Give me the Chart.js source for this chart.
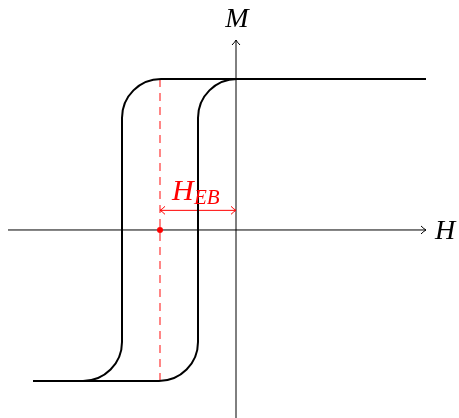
<!DOCTYPE html>
<html>
<head>
  <meta charset="utf-8">
  <title>Exchange bias hysteresis loop</title>
  <script src="https://cdn.jsdelivr.net/npm/chart.js"></script>
  <style>
    html, body { margin: 0; padding: 0; background: #fff; }
    #wrap { width: 459px; height: 418px; position: relative; }
  </style>
</head>
<body>
  <div id="wrap"><canvas id="loop"></canvas></div>
  <script>
    // Loop branches (H in units of the half coercive width, M normalised to saturation)
    const hDesc = [2.5, -1.5, -1.5, -2.67];
    const mDesc = [1, 1, -1, -1];
    const hAsc = [-2.67, -0.5, -0.5, 2.5];
    const mAsc = [-1, -1, 1, 1];

    // Loop centre (exchange bias field) and the height of the H_EB arrow
    const hEB = -1;
    const arrowM = 0.13;

    const toPoints = (xs, ys) => xs.map((x, i) => ({ x: x, y: ys[i] }));

    // Small open arrowhead at (x, y) pointing along angle a
    function arrowHead(ctx, x, y, a, len, half) {
      ctx.save();
      ctx.translate(x, y);
      ctx.rotate(a);
      ctx.beginPath();
      ctx.moveTo(-len, -half);
      ctx.quadraticCurveTo(-len * 0.35, -half * 0.2, 0, 0);
      ctx.quadraticCurveTo(-len * 0.35, half * 0.2, -len, half);
      ctx.stroke();
      ctx.restore();
    }

    const schematic = {
      id: 'schematic',
      beforeDatasetsDraw(chart) {
        const { ctx, chartArea, scales } = chart;
        const x0 = scales.x.getPixelForValue(0);
        const y0 = scales.y.getPixelForValue(0);
        ctx.save();
        ctx.strokeStyle = '#000';
        ctx.lineWidth = 1;
        ctx.beginPath();
        ctx.moveTo(chartArea.left, y0);
        ctx.lineTo(chartArea.right, y0);
        ctx.moveTo(x0, chartArea.bottom);
        ctx.lineTo(x0, chartArea.top);
        ctx.stroke();
        arrowHead(ctx, chartArea.right, y0, 0, 5, 4);
        arrowHead(ctx, x0, chartArea.top, -Math.PI / 2, 5, 4);

        ctx.fillStyle = '#000';
        ctx.font = 'italic 28px "Liberation Serif"';
        ctx.textAlign = 'center';
        ctx.fillText('M', x0 + 1, chartArea.top - 13);
        ctx.textAlign = 'left';
        ctx.fillText('H', chartArea.right + 9, y0 + 9);
        ctx.restore();
      },
      afterDatasetsDraw(chart) {
        const ctx = chart.ctx;
        chart.data.datasets.forEach((ds, i) => {
          const pts = chart.getDatasetMeta(i).data;
          if (ds.cornerRadius) {
            // branch path with rounded corners
            ctx.save();
            ctx.strokeStyle = ds.loopColor;
            ctx.lineWidth = ds.loopWidth;
            ctx.lineJoin = 'round';
            ctx.beginPath();
            ctx.moveTo(pts[0].x, pts[0].y);
            for (let k = 1; k < pts.length - 1; k++) {
              ctx.arcTo(pts[k].x, pts[k].y, pts[k + 1].x, pts[k + 1].y, ds.cornerRadius);
            }
            const last = pts[pts.length - 1];
            ctx.lineTo(last.x, last.y);
            ctx.stroke();
            ctx.restore();
          }
          if (ds.arrows) {
            const a = pts[0], b = pts[pts.length - 1];
            ctx.save();
            ctx.strokeStyle = ds.borderColor;
            ctx.lineWidth = 1;
            arrowHead(ctx, a.x, a.y, Math.PI, 5, 4);
            arrowHead(ctx, b.x, b.y, 0, 5, 4);
            // H_EB label above the arrow
            const mid = (a.x + b.x) / 2;
            ctx.fillStyle = ds.borderColor;
            ctx.textAlign = 'left';
            ctx.font = 'italic 30px "Liberation Serif"';
            ctx.fillText('H', mid - 26, a.y - 10);
            ctx.font = 'italic 21px "Liberation Serif"';
            ctx.fillText('EB', mid - 4, a.y - 6);
            ctx.restore();
          }
        });
      }
    };

    new Chart(document.getElementById('loop'), {
      type: 'scatter',
      data: {
        datasets: [
          {
            data: toPoints(hDesc, mDesc),
            showLine: false, pointRadius: 0,
            cornerRadius: 39, loopColor: '#000', loopWidth: 2
          },
          {
            data: toPoints(hAsc, mAsc),
            showLine: false, pointRadius: 0,
            cornerRadius: 39, loopColor: '#000', loopWidth: 2
          },
          {
            // loop centre marker
            data: [{ x: hEB, y: -1 }, { x: hEB, y: 1 }],
            showLine: true, pointRadius: 0,
            borderColor: 'rgba(255,40,40,0.7)', borderWidth: 1.6,
            borderDash: [8, 6]
          },
          {
            data: [{ x: hEB, y: 0 }],
            pointRadius: 3, pointBackgroundColor: '#f00', pointBorderWidth: 0
          },
          {
            data: [{ x: hEB, y: arrowM }, { x: 0, y: arrowM }],
            showLine: true, pointRadius: 0,
            borderColor: '#f00', borderWidth: 1,
            arrows: true
          }
        ]
      },
      options: {
        responsive: true,
        maintainAspectRatio: false,
        animation: false,
        layout: { autoPadding: false, padding: { left: 8, right: 33, top: 40, bottom: 0 } },
        plugins: { legend: { display: false }, tooltip: { enabled: false } },
        scales: {
          x: { type: 'linear', display: false, min: -3.0, max: 2.5 },
          y: { type: 'linear', display: false, min: -1.245, max: 1.258 }
        }
      },
      plugins: [schematic]
    });
  </script>
</body>
</html>
